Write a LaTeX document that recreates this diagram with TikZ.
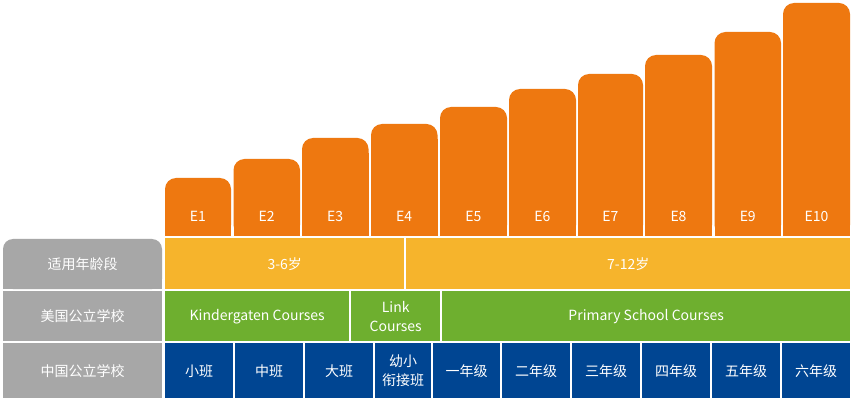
\documentclass[tikz,border=0pt]{standalone}
\usepackage{fontspec}
\setmainfont{Noto Sans CJK SC}
\definecolor{cOrange}{HTML}{EE7810}
\definecolor{cYellow}{HTML}{F6B42C}
\definecolor{cGreen}{HTML}{6EAF2F}
\definecolor{cBlue}{HTML}{004592}
\definecolor{cGray}{HTML}{A7A7A7}
\tikzset{
  cell/.style={anchor=north west, inner sep=0pt, text=white, font=\fontsize{14}{19}\selectfont, align=center},
  barlabel/.style={text=white, inner sep=0pt, font=\fontsize{14}{16}\selectfont},
}
\begin{document}
\begin{tikzpicture}[x=1pt,y=-1pt]
\fill[white] (0,0) rectangle (854,398);
\useasboundingbox (0,0) rectangle (854,398);
% bars
\foreach \l/\r/\t/\n in {165/231/178/1,233.5/300/159/2,302/368.5/138/3,371/437.5/124/4,440/507/107/5,509/576/89/6,578/643/74/7,645/712/55/8,714.5/781/32/9,783/850/3/10}{
  \fill[cOrange,rounded corners=11pt] (\l,\t) rectangle (\r,236);
  \fill[cOrange] (\l,\t+15) rectangle (\r,236);
  \node[barlabel] (e\n) at ({(\l+\r)/2},216) {E\n};
}
% gray labels
\fill[cGray,rounded corners=10pt] (3,239) rectangle (162,289);
\fill[cGray] (3,255) rectangle (162,289);
\node[text=white,inner sep=0pt,font=\fontsize{14}{19}\selectfont] (g1) at (82.5,264.5) {适用年龄段};
\node[cell,fill=cGray,minimum width=159pt,minimum height=50pt] (g2) at (3,291) {美国公立学校};
\node[cell,fill=cGray,minimum width=159pt,minimum height=55pt] (g3) at (3,343) {中国公立学校};
% yellow row
\node[cell,fill=cYellow,minimum width=239pt,minimum height=51pt] (y1) at (165,238) {3-6岁};
\node[cell,fill=cYellow,minimum width=444pt,minimum height=51pt] (y2) at (406,238) {7-12岁};
% green row
\node[cell,fill=cGreen,minimum width=184pt,minimum height=50pt] (k1) at (165,291) {Kindergaten Courses};
\node[cell,fill=cGreen,minimum width=89pt,minimum height=50pt] (k2) at (351,291) {Link\\Courses};
\node[cell,fill=cGreen,minimum width=408pt,minimum height=50pt] (k3) at (442,291) {Primary School Courses};
% blue row
\foreach \l/\r/\txt/\n in {165/233/小班/1,235/303/中班/2,305/373/大班/3,375/431/幼小\\衔接班/4,433/500/一年级/5,502/570/二年级/6,572/640/三年级/7,642/710/四年级/8,712/780/五年级/9,782/850/六年级/10}{
  \node[cell,fill=cBlue,minimum width={\r-\l},minimum height=55pt] (b\n) at (\l,343) {\txt};
}
\end{tikzpicture}
\end{document}
